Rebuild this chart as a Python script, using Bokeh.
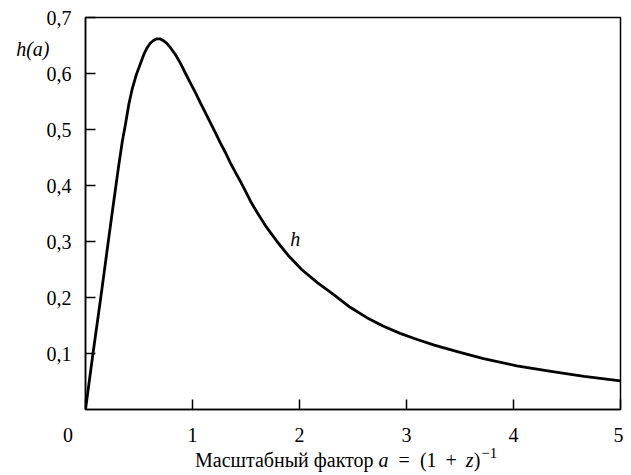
from bokeh.plotting import figure
from bokeh.models import Label, FixedTicker, Range1d, LinearAxis, Div
from bokeh.layouts import column
from bokeh.embed import file_html
from bokeh.resources import INLINE

# data
a_vals = [0.0, 0.07, 0.15, 0.22, 0.27, 0.31, 0.345, 0.374, 0.405, 0.436, 0.475, 0.514,
          0.545, 0.576, 0.605, 0.635, 0.665, 0.695, 0.725, 0.76, 0.794, 0.84, 0.888,
          0.935, 0.981, 1.03, 1.075, 1.12, 1.168, 1.215, 1.26, 1.31, 1.355, 1.40, 1.449,
          1.50, 1.542, 1.6, 1.69, 1.79, 1.9, 2.02, 2.17, 2.32, 2.47, 2.63, 2.78, 2.94,
          3.1, 3.26, 3.5, 3.72, 4.03, 4.35, 4.66, 5.0]
h_vals = [0.0, 0.10, 0.21, 0.31, 0.38, 0.435, 0.48, 0.51, 0.545, 0.572, 0.598, 0.618,
          0.634, 0.646, 0.654, 0.659, 0.662, 0.662, 0.659, 0.654, 0.646, 0.634, 0.618,
          0.60, 0.583, 0.565, 0.547, 0.53, 0.512, 0.494, 0.476, 0.458, 0.44, 0.424, 0.407,
          0.388, 0.372, 0.353, 0.326, 0.30, 0.274, 0.25, 0.226, 0.205, 0.183, 0.164, 0.149, 0.136,
          0.125, 0.115, 0.102, 0.091, 0.078, 0.068, 0.059, 0.051]
x_ticks = [0, 1, 2, 3, 4, 5]
x_tick_labels = ["0" + "\u00a0" * 7, "1", "2", "3", "4", "5"]
y_ticks = [0.1, 0.2, 0.3, 0.4, 0.5, 0.6, 0.7]
y_tick_labels = ["0,1", "0,2", "0,3", "0,4", "0,5", "0,6", "0,7"]
y_title_pos = 0.643
y_title = "h(a)"
curve_label = "h"
curve_label_pos = (1.96, 0.305)
x_title_html = ("<div style='position:relative;top:-6px'>Масштабный фактор <i>a</i>"
                "<span style='margin:0 10px'>=</span>(1"
                "<span style='margin:0 9px'>+</span><i>z</i>)"
                "<sup style='font-size:15px;vertical-align:0;position:relative;top:-9px;"
                "margin-left:1px'>−1</sup></div>")

FONT = "Liberation Serif"
FS = "20px"

p = figure(width=623, height=449, output_backend="svg", toolbar_location=None,
           x_range=Range1d(0, 5), y_range=Range1d(0, 0.7),
           min_border_left=85, min_border_right=3, min_border_top=17, min_border_bottom=40)
p.xgrid.visible = False
p.ygrid.visible = False
p.outline_line_color = "black"
p.outline_line_width = 1.5
p.background_fill_color = "white"
p.border_fill_color = "white"

p.line(a_vals, h_vals, line_color="black", line_width=2.8, line_join="round", line_cap="round")

for ax in (p.xaxis[0], p.yaxis[0]):
    ax.major_tick_in = 10
    ax.major_tick_out = 0
    ax.minor_tick_line_color = None
    ax.axis_line_color = "black"
    ax.axis_line_width = 1.5
    ax.major_tick_line_width = 1.5
    ax.major_tick_line_color = "black"
    ax.major_label_text_font = FONT
    ax.major_label_text_font_size = FS
    ax.major_label_text_color = "black"
    ax.major_label_standoff = 14

p.xaxis[0].ticker = FixedTicker(ticks=x_ticks)
p.xaxis[0].major_label_overrides = {t: l for t, l in zip(x_ticks, x_tick_labels)}
p.yaxis[0].ticker = FixedTicker(ticks=y_ticks)
p.yaxis[0].major_label_overrides = {t: l for t, l in zip(y_ticks, y_tick_labels)}

# y title "h(a)" as a second, bare left axis with one labelled tick
ytitle_axis = LinearAxis(ticker=FixedTicker(ticks=[y_title_pos]),
                         major_label_overrides={y_title_pos: y_title},
                         axis_line_color=None, major_tick_line_color=None,
                         minor_tick_line_color=None, major_tick_in=0, major_tick_out=0,
                         major_label_standoff=-6,
                         major_label_text_font=FONT, major_label_text_font_size=FS,
                         major_label_text_font_style="italic", major_label_text_color="black")
p.add_layout(ytitle_axis, "left")

# curve label
p.add_layout(Label(x=curve_label_pos[0], y=curve_label_pos[1], text=curve_label,
                   text_font=FONT, text_font_size=FS, text_font_style="italic",
                   text_align="center", text_baseline="middle", text_color="black"))

xtitle = Div(text=x_title_html, width=623, height=26,
             styles={"font-family": FONT, "font-size": FS, "color": "black",
                     "padding-left": "190px", "line-height": "24px", "white-space": "nowrap"})

layout = column(p, xtitle, spacing=0)
open("out.html", "w").write(file_html(layout, INLINE))
